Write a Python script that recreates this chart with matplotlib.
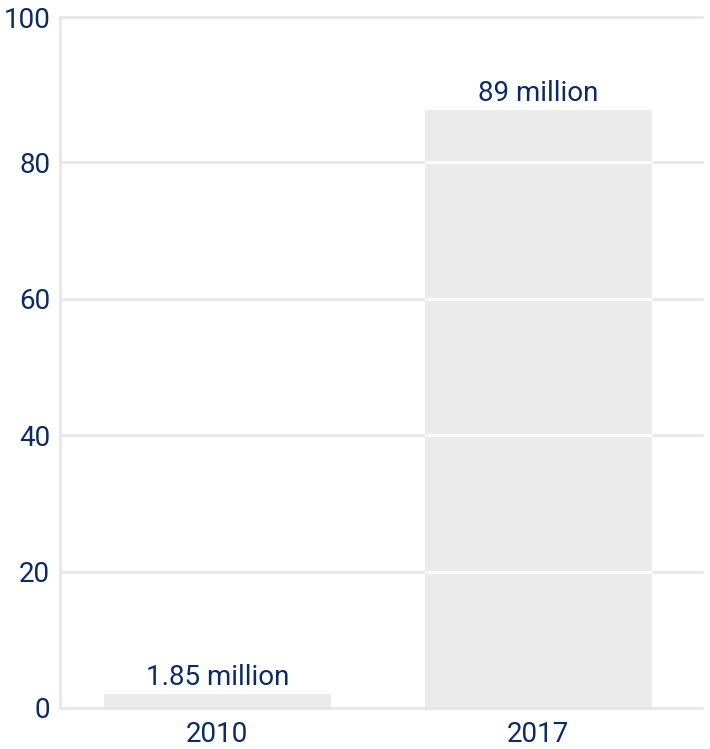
import matplotlib
matplotlib.use("Agg")
import matplotlib.pyplot as plt
from matplotlib import font_manager

NAVY = "#0b2a66"
BAR = "#ebebeb"
GRID = "#e6e6e6"

years = ["2010", "2017"]
heights = [2.0, 87.6]
labels = ["1.85 million", "89 million"]
y_top = 101.3
y_ticks = [0, 20, 40, 60, 80]
y_tick_labels = ["0", "20", "40", "60", "80", "100"]

installed = {f.name for f in font_manager.fontManager.ttflist}
family = [f for f in ["Liberation Sans Narrow", "Roboto", "DejaVu Sans"] if f in installed]
plt.rcParams["font.family"] = family

fig = plt.figure(figsize=(7.1, 7.49), dpi=100)
ax = fig.add_axes([60 / 710, 41 / 749, 642 / 710, 691 / 749])

x = list(range(len(years)))
bars = ax.bar(x, heights, width=0.707, color=BAR, zorder=1)

ax.set_xlim(-0.49, 1.51)
ax.set_ylim(0, y_top)
ticks = y_ticks + [y_top]
ax.set_yticks(ticks, y_tick_labels)
ax.set_xticks(x, years)

# grey grid outside the bars, white where it crosses a bar
for t in ticks[1:]:
    ax.axhline(t, color=GRID, linewidth=1.9, zorder=0, clip_on=False)
    for b in bars:
        if b.get_height() > t:
            ax.plot([b.get_x(), b.get_x() + b.get_width()], [t, t],
                    color="white", linewidth=1.9, zorder=2, solid_capstyle="butt")

for b, lab in zip(bars, labels):
    ax.text(b.get_x() + b.get_width() / 2, b.get_height() + 0.5, lab,
            ha="center", va="bottom", fontsize=20, color=NAVY)

for s in ["top", "right"]:
    ax.spines[s].set_visible(False)
for s in ["left", "bottom"]:
    ax.spines[s].set_color(GRID)
    ax.spines[s].set_linewidth(1.9)
    ax.spines[s].set_zorder(3)

ax.tick_params(axis="both", length=0, labelsize=20, labelcolor=NAVY)
ax.tick_params(axis="y", pad=7)
ax.tick_params(axis="x", pad=9)

fig.savefig("out.png", dpi=100, facecolor="white")
